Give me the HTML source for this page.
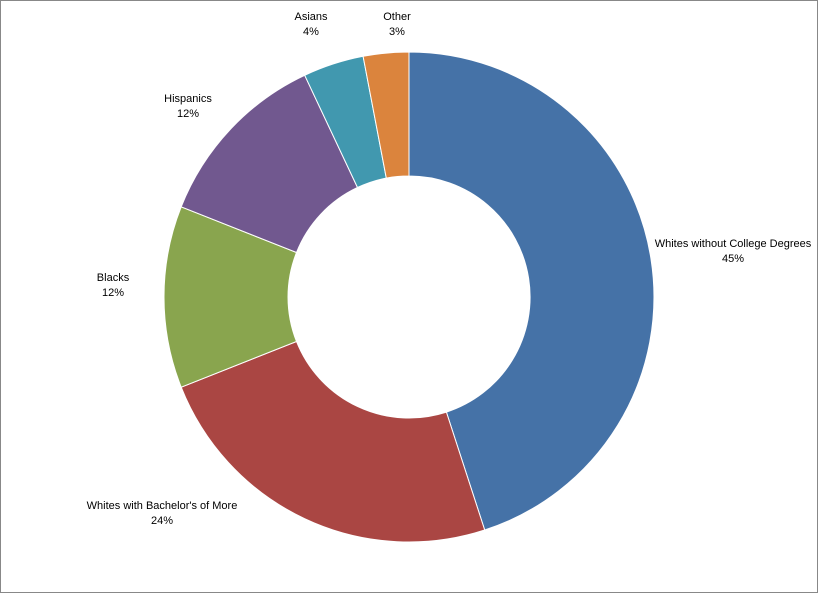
<!DOCTYPE html>
<html><head><meta charset="utf-8"><style>
html,body{margin:0;padding:0;background:#fff;}
svg{display:block;}
text{font-family:"Liberation Sans",sans-serif;font-size:11px;fill:#000;}
</style></head><body>
<svg width="818" height="593" viewBox="0 0 818 593">
<rect x="0.5" y="0.5" width="817" height="592" fill="#fff" stroke="#888"/>
<g stroke="#fff" stroke-width="1">
<path d="M409,52 A245,245 0 0 1 484.7,530 L446.4,412.1 A121,121 0 0 0 409,176 Z" fill="#4572A7"/>
<path d="M484.7,530 A245,245 0 0 1 181.2,387.2 L296.5,341.5 A121,121 0 0 0 446.4,412.1 Z" fill="#AA4643"/>
<path d="M181.2,387.2 A245,245 0 0 1 181.2,206.8 L296.5,252.5 A121,121 0 0 0 296.5,341.5 Z" fill="#89A54E"/>
<path d="M181.2,206.8 A245,245 0 0 1 304.7,75.3 L357.5,187.5 A121,121 0 0 0 296.5,252.5 Z" fill="#71588F"/>
<path d="M304.7,75.3 A245,245 0 0 1 363.1,56.3 L386.3,178.1 A121,121 0 0 0 357.5,187.5 Z" fill="#4198AF"/>
<path d="M363.1,56.3 A245,245 0 0 1 409,52 L409,176 A121,121 0 0 0 386.3,178.1 Z" fill="#DB843D"/>
</g>
<g text-anchor="middle">
<text x="311" y="20">Asians</text><text x="311" y="35">4%</text>
<text x="397" y="20">Other</text><text x="397" y="35">3%</text>
<text x="188" y="102">Hispanics</text><text x="188" y="117">12%</text>
<text x="113" y="281">Blacks</text><text x="113" y="296">12%</text>
<text x="733" y="247">Whites without College Degrees</text><text x="733" y="262">45%</text>
<text x="162" y="509">Whites with Bachelor's of More</text><text x="162" y="524">24%</text>
</g>
</svg>
</body></html>
